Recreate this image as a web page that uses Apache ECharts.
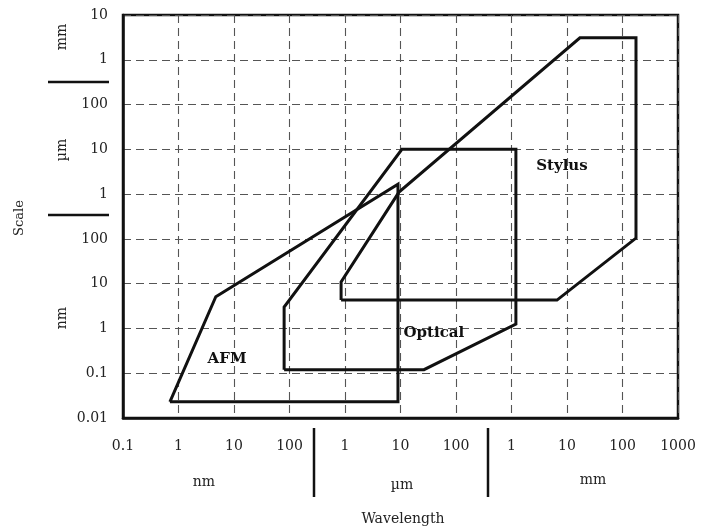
<!DOCTYPE html>
<html>
<head>
<meta charset="utf-8">
<script src="https://cdn.jsdelivr.net/npm/echarts@6/dist/echarts.min.js"></script>
<style>html,body{margin:0;padding:0;background:#fff}#c{width:701px;height:529px}</style>
</head>
<body>
<div id="c"></div>
<script>
// Wavelength and scale values are in nm
const xTickLabels = ['0.1','1','10','100','1','10','100','1','10','100','1000'];
const yTickLabels = ['0.01','0.1','1','10','100','1','10','100','1','10'];
const xUnits = ['nm','µm','mm'];
const yUnits = ['mm','µm','nm'];

const afm = [[0.7,0.023],[4.7,5.1],[9000,1670],[9000,0.023]];
const optical = [[80,0.12],[80,3],[10600,10000],[1.2e6,10000],[1.2e6,1.25],[26500,0.12]];
const stylus = [[850,4.3],[850,10.9],[9400,1110],[1.71e7,3.1e6],[1.75e8,3.1e6],[1.75e8,104],[6.6e6,4.3]];

const regionNames = ['AFM','Optical','Stylus'];
const regionLabelPos = [[7.5,0.21],[40000,0.79],[8.1e6,4200]];

const FONT = 'DejaVu Serif';
const close = d => d.concat([d[0]]);
const chart = echarts.init(document.getElementById('c'), null, {renderer:'canvas'});

const dashed = {show:true, lineStyle:{type:[8,5], color:'#555', width:1.1}};
const polyStyle = {color:'#111', width:3, join:'miter'};

function unitText(x,y,t,rot,size){
  return {type:'text', x:x, y:y, rotation: rot||0,
    style:{text:t, fill:'#222', font:(size||14)+'px "'+FONT+'"', align:'center', verticalAlign:'middle'}};
}
function bar(x1,y1,x2,y2){
  return {type:'line', shape:{x1:x1,y1:y1,x2:x2,y2:y2}, style:{stroke:'#111', lineWidth:2.5}};
}

chart.setOption({
  animation:false,
  backgroundColor:'#fff',
  grid:{left:123, right:23, top:15, bottom:111, show:true, borderColor:'#111', borderWidth:2.5, containLabel:false},
  xAxis:{type:'log', logBase:10, min:0.1, max:1e9, interval:1,
    axisLine:{show:true, lineStyle:{color:'#111', width:2.5}},
    axisTick:{show:false},
    splitLine:dashed,
    axisLabel:{margin:21, color:'#222', fontFamily:FONT, fontSize:14, showMinLabel:true, showMaxLabel:true,
      formatter:v=>{const e=Math.round(Math.log10(v)); return xTickLabels[e+1]||'';}}
  },
  yAxis:{type:'log', logBase:10, min:0.01, max:1e7, interval:1,
    axisLine:{show:true, lineStyle:{color:'#111', width:2.5}},
    axisTick:{show:false},
    splitLine:dashed,
    axisLabel:{margin:15, color:'#222', fontFamily:FONT, fontSize:14, showMinLabel:true, showMaxLabel:true,
      formatter:v=>{const e=Math.round(Math.log10(v)); return yTickLabels[e+2]||'';}}
  },
  series:[
    {type:'line', name:'AFM', data:close(afm), symbol:'none', lineStyle:polyStyle, z:5},
    {type:'line', name:'Optical', data:close(optical), symbol:'none', lineStyle:polyStyle, z:5},
    {type:'line', name:'Stylus', data:close(stylus), symbol:'none', lineStyle:polyStyle, z:5},
    {type:'scatter', symbolSize:0, z:6, silent:true, itemStyle:{opacity:1},
      data:regionLabelPos.map((p,i)=>({value:p, name:regionNames[i]})),
      label:{show:true, position:'inside', formatter:p=>p.name, fontFamily:FONT, fontWeight:'bold', fontSize:15,
        color:'#111', textBorderWidth:0, opacity:1}}
  ],
  graphic:[
    unitText(62,37,yUnits[0],Math.PI/2,14),
    unitText(62,150,yUnits[1],Math.PI/2,14),
    unitText(62,318,yUnits[2],Math.PI/2,14),
    unitText(20,218,'Scale',Math.PI/2,13),
    bar(48,82,109,82),
    bar(48,215,109,215),
    unitText(204,482,xUnits[0],0,14),
    unitText(402,485,xUnits[1],0,14),
    unitText(593,480,xUnits[2],0,14),
    bar(314,428,314,497),
    bar(488,428,488,497),
    unitText(403,519,'Wavelength',0,14)
  ]
});
</script>
</body>
</html>
